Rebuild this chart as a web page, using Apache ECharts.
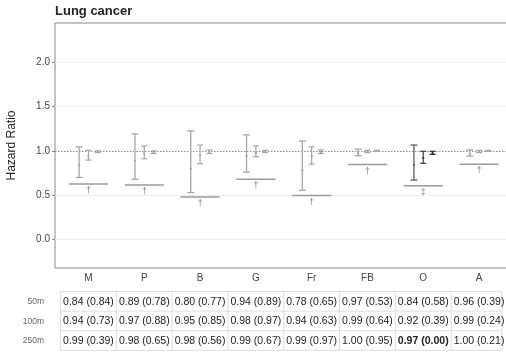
<!DOCTYPE html>
<html><head><meta charset="utf-8">
<script src="https://cdn.jsdelivr.net/npm/echarts@6/dist/echarts.min.js"></script>
<style>html,body{margin:0;padding:0;background:#fff}#c{width:506px;height:353px}</style>
</head><body><div id="c"></div>
<script>
// ---- data ----
const categories = ['M','P','B','G','Fr','FB','O','A'];
const est50  = [0.84,0.89,0.80,0.94,0.78,0.97,0.84,0.96];
const lo50   = [0.70,0.68,0.53,0.76,0.555,0.945,0.67,0.94];
const hi50   = [1.045,1.19,1.225,1.18,1.11,1.02,1.065,1.01];
const est100 = [0.94,0.97,0.95,0.98,0.94,0.99,0.92,0.99];
const lo100  = [0.895,0.91,0.855,0.935,0.85,0.98,0.86,0.98];
const hi100  = [1.005,1.055,1.065,1.055,1.045,1.005,0.995,1.005];
const est250 = [0.99,0.98,0.98,0.99,0.99,1.00,0.97,1.00];
const lo250  = [0.98,0.97,0.97,0.98,0.97,0.995,0.96,0.995];
const hi250  = [1.00,1.00,1.01,1.005,1.01,1.005,0.995,1.005];
const p50    = [0.84,0.78,0.77,0.89,0.65,0.53,0.58,0.39];
const p100   = [0.73,0.88,0.85,0.97,0.63,0.64,0.39,0.24];
const p250   = [0.39,0.65,0.56,0.67,0.97,0.95,0.00,0.21];
const refLine = [0.625,0.614,0.479,0.681,0.498,0.847,0.606,0.85];
const marks  = ['†','†','†','†','†','†','‡','†'];
const rowLabels = ['50m','100m','250m'];
const yTicks = [0,0.5,1,1.5,2];
const title = 'Lung cancer';
const yName = 'Hazard Ratio';

// ---- style ----
const FONT = 'Liberation Sans, Arial, sans-serif';
const LIGHT = '#a6a6a6';
const darkCat = 'O';
const DARK = {d50:'#5f5f5f', d100:'#404040', d250:'#2e2e2e'};
const DODGE = 0.167;

const chart = echarts.init(document.getElementById('c'), null, {renderer:'canvas'});

function errSeries(key, est, lo, hi, off, capHalf, lw) {
  return {
    type:'custom', coordinateSystem:'cartesian2d', silent:true, clip:false, z:5,
    data: categories.map((c,i)=>[i+1+off, lo[i], hi[i], est[i], i]),
    renderItem(params, api) {
      const x = api.value(0);
      const t = api.coord([x, api.value(2)]);
      const b = api.coord([x, api.value(1)]);
      const m = api.coord([x, api.value(3)]);
      const col = categories[api.value(4)] === darkCat ? DARK[key] : LIGHT;
      const st = {stroke:col, lineWidth:lw};
      return {type:'group', children:[
        {type:'line', shape:{x1:t[0],y1:t[1],x2:b[0],y2:b[1]}, style:st},
        {type:'line', shape:{x1:t[0]-capHalf,y1:t[1],x2:t[0]+capHalf,y2:t[1]}, style:st},
        {type:'line', shape:{x1:b[0]-capHalf,y1:b[1],x2:b[0]+capHalf,y2:b[1]}, style:st},
        {type:'rect', shape:{x:m[0]-1,y:m[1]-1,width:2,height:2}, style:{fill:col}}
      ]};
    }
  };
}

const gridSeries = {
  type:'line', data:[], silent:true, z:1,
  markLine: {
    silent:true, symbol:'none', label:{show:false}, z:1,
    data: [
      ...[0,0.5,1.5,2].map(v=>({yAxis:v, lineStyle:{color:'#eeeeee', width:1, type:'solid'}})),
      {yAxis:1, lineStyle:{color:'#8c8c8c', width:1, type:[1.5,1.5]}}
    ]
  }
};

const refSeries = {
  type:'custom', coordinateSystem:'cartesian2d', silent:true, clip:false, z:4,
  data: categories.map((c,i)=>[i+1, refLine[i], i]),
  renderItem(params, api) {
    const x = api.value(0), v = api.value(1);
    const a = api.coord([x-0.35, v]), b = api.coord([x+0.35, v]);
    return {type:'group', children:[
      {type:'line', shape:{x1:a[0],y1:a[1],x2:b[0],y2:b[1]}, style:{stroke:'#9a9a9a', lineWidth:1.5}},
      {type:'text', x:(a[0]+b[0])/2, y:a[1]+1.5, style:{text:marks[api.value(2)], fill:'#8a8a8a', fontSize:9.5, fontFamily:FONT, align:'center', verticalAlign:'top'}}
    ]};
  }
};

chart.setOption({
  animation:false,
  title:{text:title, left:55, top:5, padding:0, textStyle:{fontSize:13, fontWeight:'bold', color:'#222', fontFamily:FONT}},
  grid:{left:55, top:23, width:457.5, height:245, outerBoundsMode:'none', containLabel:false, show:true, borderColor:'#888', borderWidth:1, backgroundColor:'transparent'},
  xAxis:{type:'value', min:0.4, max:8.6,
    axisLine:{show:false}, splitLine:{show:false},
    axisTick:{show:false},
    axisLabel:{customValues:categories.map((c,i)=>i+1), formatter:v=>categories[Math.round(v)-1]||'', color:'#444', fontSize:10, fontFamily:FONT, margin:5}
  },
  yAxis:{type:'value', min:-0.32, max:2.44,
    axisLine:{show:false}, splitLine:{show:false},
    axisTick:{show:true, customValues:yTicks, length:3, lineStyle:{color:'#888'}},
    axisLabel:{customValues:yTicks, formatter:v=>v.toFixed(1), color:'#444', fontSize:10, fontFamily:FONT, margin:5}
  },
  series:[
    gridSeries,
    refSeries,
    errSeries('d50', est50, lo50, hi50, -DODGE, 3.5, 1.3),
    errSeries('d100', est100, lo100, hi100, 0, 3, 1.2),
    errSeries('d250', est250, lo250, hi250, DODGE, 3, 1.2)
  ]
});

// ---- table ----
const px = categories.map((c,i)=>chart.convertToPixel({gridIndex:0},[i+1,0])[0]);
const bw = px[1]-px[0];
const rowsTop = 291.5, rowH = 19.6;
const ests = [est50, est100, est250], ps = [p50, p100, p250];
const g = [];
g.push({type:'text', style:{text:yName, x:0, y:0, fill:'#222', fontSize:12, fontFamily:FONT, align:'center', verticalAlign:'middle'}, x:12, y:145.5, rotation:Math.PI/2});
const left = px[0]-bw/2, right = Math.min(px[7]+bw/2, 502);
for (let r=0;r<=3;r++) {
  const y = rowsTop + r*rowH;
  g.push({type:'line', shape:{x1:left,y1:y,x2:right,y2:y}, style:{stroke:'#dcdcdc', lineWidth:1}});
}
for (let c=0;c<=8;c++) {
  const x = c<8 ? px[0]-bw/2 + c*bw : right;
  g.push({type:'line', shape:{x1:x,y1:rowsTop,x2:x,y2:rowsTop+3*rowH}, style:{stroke:'#dcdcdc', lineWidth:1}});
}
for (let r=0;r<3;r++) {
  const yc = rowsTop + r*rowH + rowH/2 + 0.5;
  g.push({type:'text', style:{text:rowLabels[r], x:44, y:yc, fill:'#666', fontSize:8.5, fontFamily:FONT, align:'right', verticalAlign:'middle'}});
  for (let i=0;i<8;i++) {
    const p = ps[r][i];
    g.push({type:'text', style:{text:ests[r][i].toFixed(2)+' ('+p.toFixed(2)+')', x:px[i], y:yc, fill:'#222', fontSize:10.5, fontFamily:FONT, fontWeight:p<0.05?'bold':'normal', align:'center', verticalAlign:'middle'}});
  }
}
chart.setOption({graphic:g});
</script></body></html>
